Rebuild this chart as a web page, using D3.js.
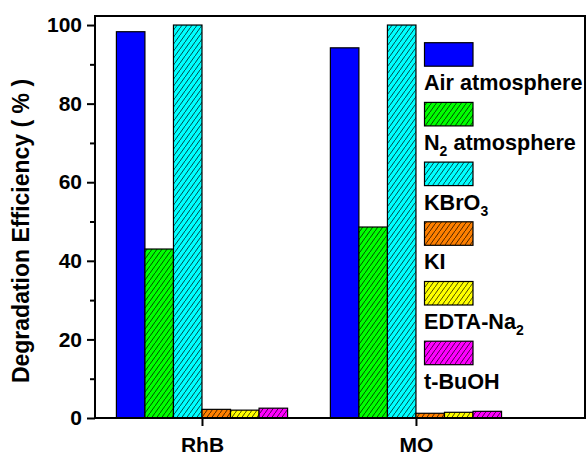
<!DOCTYPE html>
<html>
<head>
<meta charset="utf-8">
<script src="https://cdn.jsdelivr.net/npm/d3@7"></script>
<style>
  html, body { margin: 0; padding: 0; background: #fff; }
  svg { display: block; font-family: "Liberation Sans", Arial, sans-serif; font-weight: bold; }
</style>
</head>
<body>
<svg id="chart" width="587" height="453"></svg>
<script>
// Samples and scavenger conditions
const categories = ["RhB", "MO"];
const seriesNames = ["Air atmosphere", "N2 atmosphere", "KBrO3", "KI", "EDTA-Na2", "t-BuOH"];
const seriesColors = ["#0000ff", "#00ff00", "#00ffff", "#ff8000", "#ffff00", "#ff00ff"];
const seriesHatched = [false, true, true, true, true, true];
// Degradation efficiency (%) per series, one value per sample
const airValues   = [98.3, 94.2];
const n2Values    = [43.0, 48.6];
const kbro3Values = [100.0, 100.0];
const kiValues    = [2.2, 1.2];
const edtaValues  = [2.0, 1.45];
const tbuohValues = [2.5, 1.7];
const yTicks = [0, 20, 40, 60, 80, 100];
const yMinorTicks = [10, 30, 50, 70, 90];

const seriesValues = [airValues, n2Values, kbro3Values, kiValues, edtaValues, tbuohValues];

const svg = d3.select("#chart");
const m = { left: 95, right: 585, top: 16, bottom: 418 };

const x = d3.scaleLinear().domain([0.5, 2.79]).range([m.left, m.right]);
const y = d3.scaleLinear().domain([0, 102.3]).range([m.bottom, m.top]);
const groupWidth = 0.8;
const barW = groupWidth / seriesNames.length;

// Hatch patterns
const defs = svg.append("defs");
seriesColors.forEach((c, i) => {
  const p = defs.append("pattern")
    .attr("id", "hatch" + i)
    .attr("patternUnits", "userSpaceOnUse")
    .attr("width", 5).attr("height", 7);
  p.append("rect").attr("width", 5).attr("height", 7).attr("fill", c);
  p.append("path").attr("d", "M-1,8.4 L6,-1.4")
    .attr("stroke", "#000").attr("stroke-width", 0.7).attr("fill", "none");
});
const fillFor = i => seriesHatched[i] ? `url(#hatch${i})` : seriesColors[i];

// Bars
seriesValues.forEach((vals, s) => {
  svg.append("g").selectAll("rect")
    .data(vals)
    .join("rect")
    .attr("x", (d, j) => x(j + 1 - groupWidth / 2 + s * barW))
    .attr("width", x(barW) - x(0))
    .attr("y", d => y(d))
    .attr("height", d => y(0) - y(d))
    .attr("fill", fillFor(s))
    .attr("stroke", "#000")
    .attr("stroke-width", 1.2);
});

// Frame
svg.append("rect")
  .attr("x", m.left).attr("y", m.top)
  .attr("width", m.right - m.left).attr("height", m.bottom - m.top)
  .attr("fill", "none").attr("stroke", "#000").attr("stroke-width", 2);

// Y axis
const yAxis = svg.append("g").attr("transform", `translate(${m.left},0)`)
  .call(d3.axisLeft(y).tickValues(yTicks).tickSize(8).tickPadding(5).tickFormat(d3.format("d")));
yAxis.select(".domain").remove();
yAxis.selectAll(".tick line").attr("stroke", "#000").attr("stroke-width", 2);
yAxis.selectAll(".tick text").attr("font-size", 21).attr("font-weight", "bold")
  .attr("font-family", "Liberation Sans, Arial, sans-serif").attr("fill", "#000");
const yMinor = svg.append("g").attr("transform", `translate(${m.left},0)`)
  .call(d3.axisLeft(y).tickValues(yMinorTicks).tickSize(5).tickFormat(""));
yMinor.select(".domain").remove();
yMinor.selectAll(".tick line").attr("stroke", "#000").attr("stroke-width", 2);

// X axis
const xAxis = svg.append("g").attr("transform", `translate(0,${m.bottom})`)
  .call(d3.axisBottom(x).tickValues([1, 2]).tickSize(8).tickPadding(11)
    .tickFormat((d) => categories[d - 1]));
xAxis.select(".domain").remove();
xAxis.selectAll(".tick line").attr("stroke", "#000").attr("stroke-width", 2);
xAxis.selectAll(".tick text").attr("font-size", 21).attr("font-weight", "bold")
  .attr("font-family", "Liberation Sans, Arial, sans-serif").attr("fill", "#000");

// Y title
svg.append("text")
  .attr("transform", `translate(29,231) rotate(-90)`)
  .attr("text-anchor", "middle")
  .attr("font-size", 23)
  .text("Degradation Efficiency ( % )");

// Legend
const legendLabels = [
  [["Air atmosphere", false]],
  [["N", false], ["2", true], [" atmosphere", false]],
  [["KBrO", false], ["3", true]],
  [["KI", false]],
  [["EDTA-Na", false], ["2", true]],
  [["t-BuOH", false]]
];
const legend = svg.append("g");
seriesNames.forEach((name, i) => {
  const top = 42.7 + i * 59.7;
  legend.append("rect")
    .attr("x", 424.5).attr("y", top)
    .attr("width", 48.5).attr("height", 23.5)
    .attr("fill", fillFor(i)).attr("stroke", "#000").attr("stroke-width", 1.2);
  const t = legend.append("text")
    .attr("x", 424).attr("y", top + 47.5)
    .attr("font-size", 21.6);
  legendLabels[i].forEach(([txt, sub]) => {
    const ts = t.append("tspan").text(txt);
    if (sub) ts.attr("font-size", 14).attr("dy", 6);
    else if (t.selectAll("tspan").size() > 1) ts.attr("dy", -6);
  });
});
</script>
</body>
</html>
